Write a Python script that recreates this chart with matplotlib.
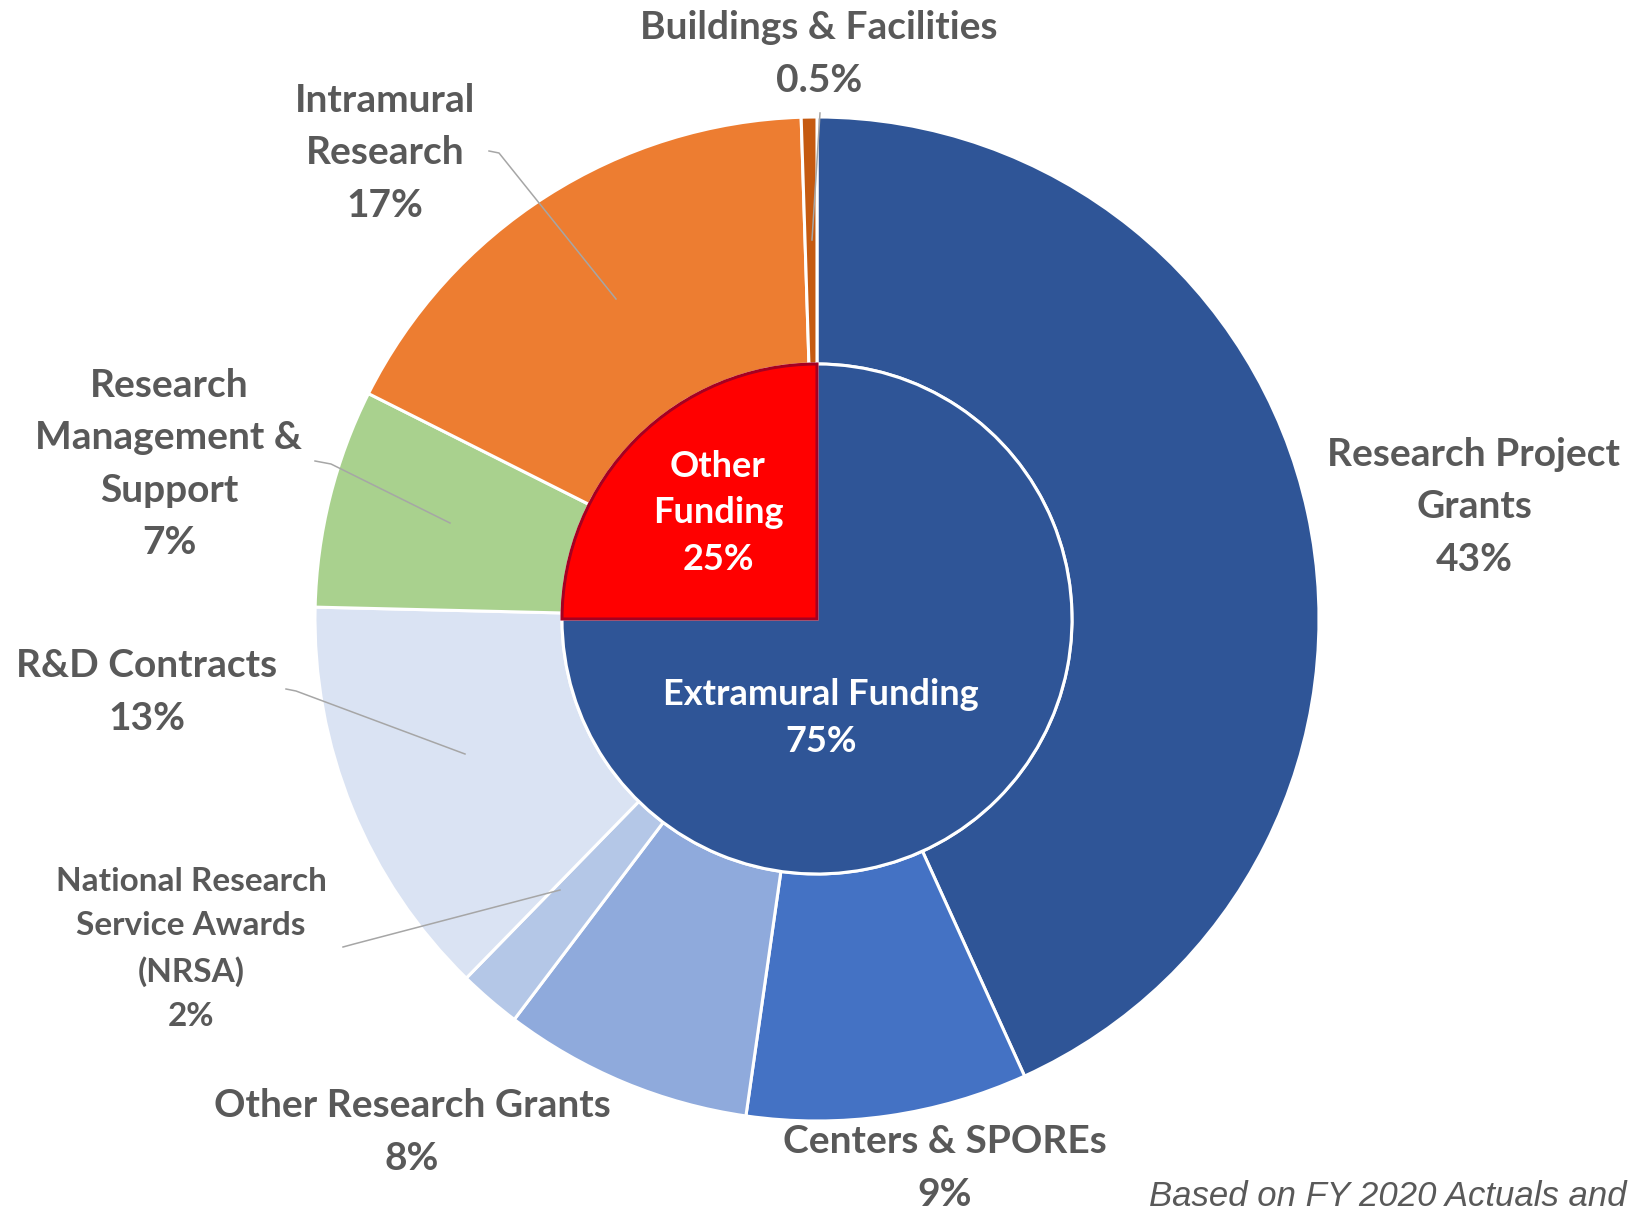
import matplotlib
matplotlib.use("Agg")
import matplotlib.pyplot as plt

# ---------------- data ----------------
outer_labels = ["Research Project\nGrants", "Centers & SPOREs", "Other Research Grants",
                "National Research\nService Awards\n(NRSA)", "R&D Contracts",
                "Research\nManagement &\nSupport", "Intramural\nResearch",
                "Buildings & Facilities"]
outer_values = [43, 9, 8, 2, 13, 7, 17, 0.5]
outer_colors = ["#2F5597", "#4472C4", "#8FAADC", "#B4C7E7", "#DAE3F3",
                "#A9D18E", "#ED7D31", "#C55A11"]

inner_labels = ["Extramural Funding", "Other\nFunding"]
inner_values = [75, 25]
inner_colors = ["#2F5597", "#FF0000"]

footnote = "Based on FY 2020 Actuals and"

# ---------------- layout ----------------
W, H = 1631, 1214
fig = plt.figure(figsize=(W / 100, H / 100), dpi=100)
ax = fig.add_axes([0, 0, 1, 1])

cx, cy = 817, H - 619
R_out, R_in = 502, 255

wo, _ = ax.pie(outer_values, colors=outer_colors, startangle=90, counterclock=False,
               radius=R_out, center=(cx, cy),
               wedgeprops=dict(width=R_out - R_in, edgecolor="white", linewidth=2.2))
wi, _ = ax.pie(inner_values, colors=inner_colors, startangle=90, counterclock=False,
               radius=R_in, center=(cx, cy),
               wedgeprops=dict(edgecolor="white", linewidth=2.2))
wi[1].set_edgecolor("#A50021")
wi[1].set_linewidth(2.2)
wi[1].set_zorder(3)

ax.set_xlim(0, W)
ax.set_ylim(0, H)
ax.set_aspect("equal")
ax.axis("off")

gray = "#595959"
font = "Lato"

def pct(v):
    return f"{v:g}%"

# label block centres (x, y from top), font sizes, line spacing
label_pos = [(1474, 507), (945, 1168), (412, 1132), (191, 949), (147, 692),
             (169, 464), (385, 153), (819, 54)]
label_size = [28, 28, 28, 24, 28, 28, 28, 28]
label_ls = [1.6, 1.6, 1.6, 1.62, 1.6, 1.6, 1.6, 1.6]
for lab, v, (x, y), fs, ls in zip(outer_labels, outer_values, label_pos, label_size, label_ls):
    ax.text(x, H - y, f"{lab}\n{pct(v)}", ha="center", va="center", fontsize=fs,
            fontweight="bold", color=gray, family=font, linespacing=ls)

# inner labels
inner_pos = [(821, 718), (718, 513)]
for lab, v, (x, y) in zip(inner_labels, inner_values, inner_pos):
    ax.text(x, H - y, f"{lab}\n{pct(v)}", ha="center", va="center", fontsize=26,
            fontweight="bold", color="white", family=font, linespacing=1.5, zorder=6)

# leader lines
leaders = [
    [(489, 151), (499, 153), (616, 299)],
    [(315, 461), (331, 464), (450, 523)],
    [(286, 689), (296, 691), (465, 754)],
    [(343, 947), (354, 944), (560, 890)],
    [(820, 113), (812, 240)],
]
for pts in leaders:
    xs = [p[0] for p in pts]
    ys = [H - p[1] for p in pts]
    ax.plot(xs, ys, color="#A6A6A6", lw=1.1, zorder=5)

ax.text(1149, H - 1197, footnote, ha="left", va="center", fontsize=25,
        style="italic", color=gray, family="Liberation Sans")

fig.savefig("out.png", dpi=100)
